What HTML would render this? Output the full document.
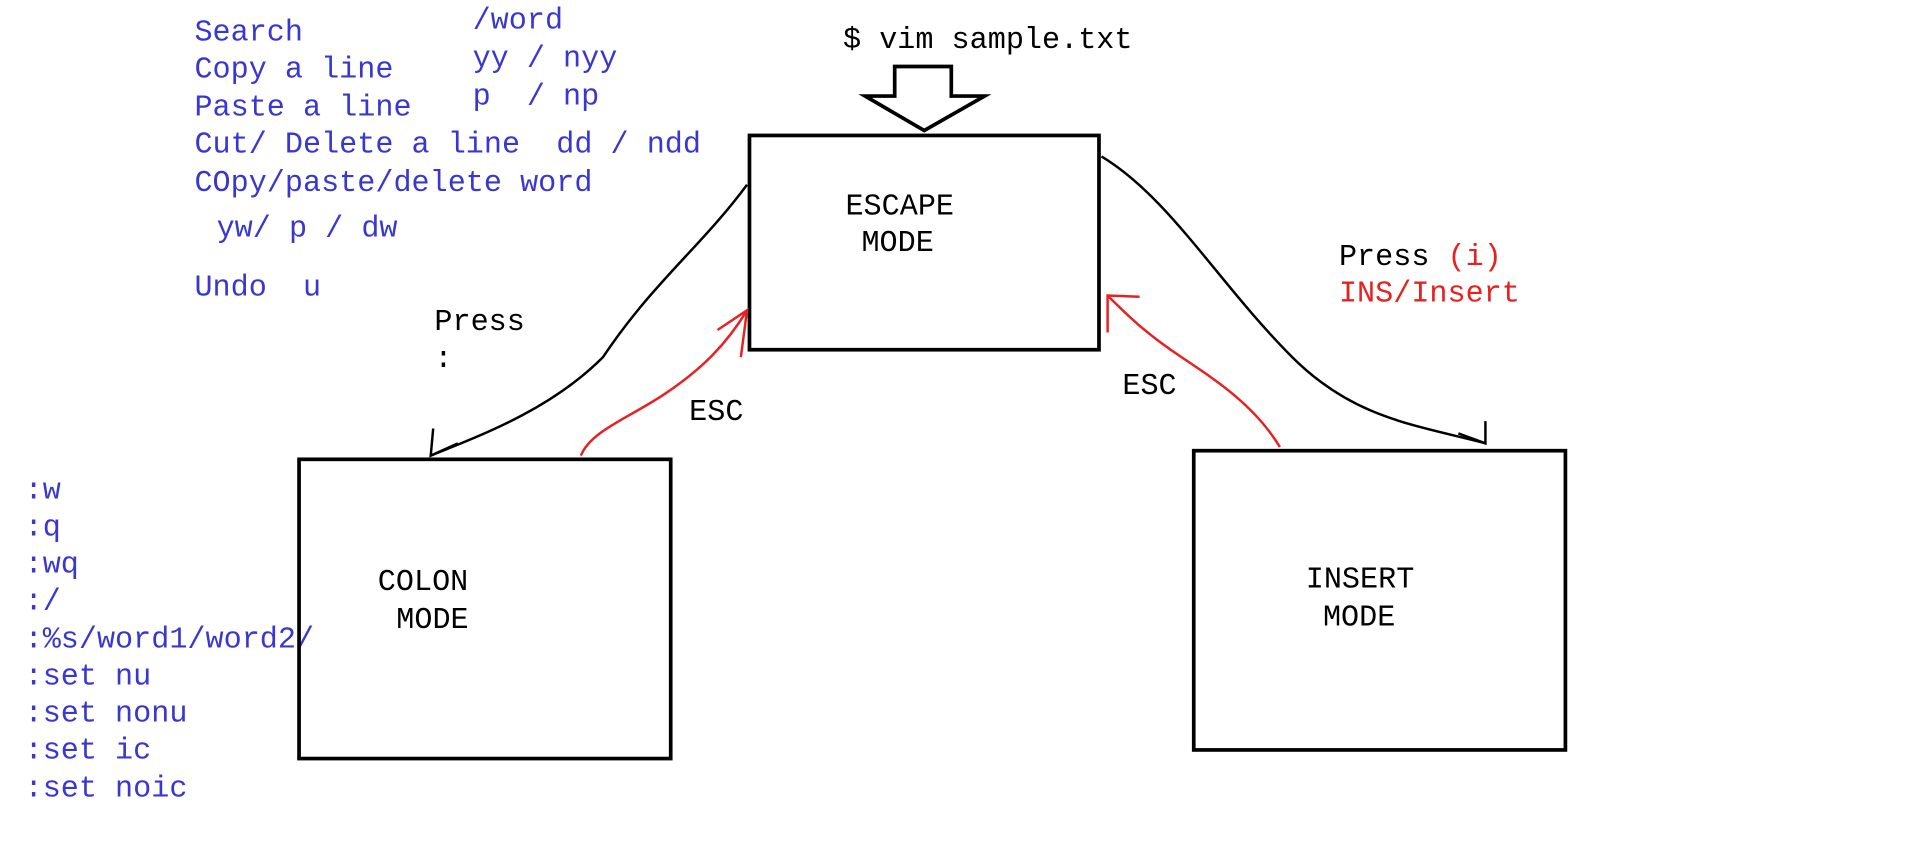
<!DOCTYPE html>
<html><head><style>
html,body{margin:0;padding:0;background:#fff;}
svg{display:block}
text{font-family:"Liberation Mono",monospace;font-size:24.5px;white-space:pre;}
.b{fill:#3838d0}
.k{fill:#000}
.r{fill:#e82020}
</style></head><body>
<svg width="1910" height="862" viewBox="0 0 1552 700" preserveAspectRatio="none" xmlns="http://www.w3.org/2000/svg" xml:space="preserve">
<rect width="1552" height="700" fill="#fff"/>
<g class="b">
<text x="158" y="33">Search</text>
<text x="158" y="63">Copy a line</text>
<text x="158" y="94">Paste a line</text>
<text x="158" y="124">Cut/ Delete a line  dd / ndd</text>
<text x="158" y="155">COpy/paste/delete word</text>
<text x="176" y="192">yw/ p / dw</text>
<text x="158" y="240">Undo  u</text>
<text x="384" y="23">/word</text>
<text x="384" y="54">yy / nyy</text>
<text x="384" y="85">p  / np</text>
<text x="20" y="405">:w</text>
<text x="20" y="435">:q</text>
<text x="20" y="465">:wq</text>
<text x="20" y="495">:/</text>
<text x="20" y="526">:%s/word1/word2/</text>
<text x="20" y="556">:set nu</text>
<text x="20" y="586">:set nonu</text>
<text x="20" y="616">:set ic</text>
<text x="20" y="647">:set noic</text>
</g>
<g class="k">
<text x="685" y="39">$ vim sample.txt</text>
<text x="687" y="174">ESCAPE</text>
<text x="700" y="204">MODE</text>
<text x="307" y="479">COLON</text>
<text x="322" y="510">MODE</text>
<text x="1061" y="477">INSERT</text>
<text x="1075" y="508">MODE</text>
<text x="353" y="268">Press</text>
<text x="353" y="298">:</text>
<text x="560" y="341">ESC</text>
<text x="912" y="320">ESC</text>
<text x="1088" y="215">Press <tspan class="r">(i)</tspan></text>
</g>
<text class="r" x="1088" y="245">INS/Insert</text>
<g fill="none" stroke="#000" stroke-width="3">
<rect x="609" y="110" width="284" height="174"/>
<rect x="243" y="373" width="302" height="243"/>
<rect x="970" y="366" width="302" height="243"/>
<path d="M727 54 H773 V78 H800 L751 106 L703 78 H727 Z"/>
</g>
<g fill="none" stroke="#000" stroke-width="2">
<path d="M607 150 C570 200 530 230 490 290 C450 330 400 350 350 370"/>
<path d="M352 348 L350 370 L372 360"/>
<path d="M895 127 C950 160 990 230 1050 290 C1100 340 1150 345 1207 360"/>
<path d="M1185 352 L1207 360 L1207 342"/>
</g>
<g fill="none" stroke="#e82020" stroke-width="2">
<path d="M472 370 C480 350 510 340 540 320 C570 300 590 280 607 252"/>
<path d="M583 268 L607 252 L602 290"/>
<path d="M1040 363 C1020 330 990 310 960 290 C930 270 915 255 900 240"/>
<path d="M900 270 L900 240 L926 241"/>
</g>
</svg>
</body></html>
